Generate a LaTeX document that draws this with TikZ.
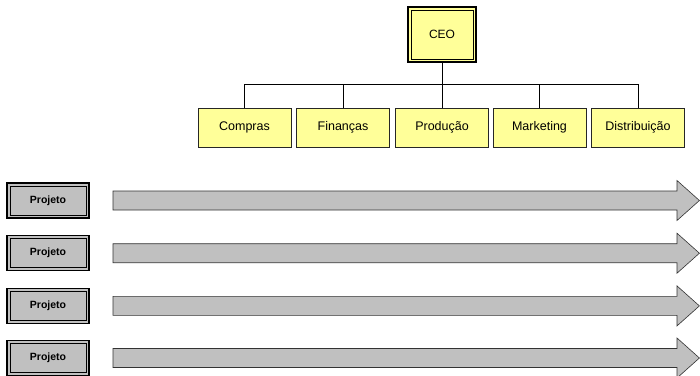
\documentclass[tikz,border=0pt]{standalone}
\usepackage{fontspec}
\setmainfont{Liberation Sans}
\usetikzlibrary{positioning}
\definecolor{boxyellow}{RGB}{255,255,153}
\definecolor{bargray}{RGB}{192,192,192}
\tikzset{inner line/.style = {path picture = {
           \draw [line width = 0.7pt]
             ([shift = {(3, 3)}]path picture bounding box.north west) rectangle
             ([shift = {(-3, -3)}]path picture bounding box.south east);}}}
\tikzset{ceobox/.style = {draw, fill = boxyellow, line width = 1.3pt, inner line,
                          minimum width = 68, minimum height = 55,
                          font = \fontsize{12}{14}\selectfont}}
\tikzset{deptbox/.style = {draw = black!85, fill = boxyellow, line width = 1pt,
                           minimum width = 93, minimum height = 39,
                           font = \fontsize{12.5}{14}\selectfont}}
\tikzset{projbox/.style = {draw, fill = bargray, line width = 1.3pt, inner line,
                           minimum width = 82, minimum height = 35,
                           font = \bfseries\fontsize{10.5}{12}\selectfont}}
\tikzset{bar/.style = {draw = black!80, fill = bargray, line width = 0.6pt}}

\begin{document}
\begin{tikzpicture}[x = 1pt, y = -1pt, inner sep = 0]
      \useasboundingbox (0, 0) rectangle (700, 375);

      \node [ceobox] (ceo) at (442, 34.5) {CEO};

      \node [deptbox] (compras)  at (244.5, 127.5) {Compras};
      \node [deptbox] (financas) at (343, 127.5)   {Finanças};
      \node [deptbox] (producao) at (442, 127.5)   {Produção};
      \node [deptbox] (marketing) at (539.5, 127.5) {Marketing};
      \node [deptbox] (distrib)  at (638, 127.5)   {Distribuição};

      \coordinate (bus) at (442, 84);
      \draw [line width = 0.8pt] (ceo) -- (bus);
      \foreach \dept in {compras, financas, producao, marketing, distrib}
        \draw [line width = 0.8pt] (\dept.north) |- (bus);

      \foreach \row/\y in {1/200.5, 2/253.2, 3/305.9, 4/358} {
        \node [projbox] (proj\row) at (48, \y) {Projeto};
        \draw [bar] (113, \y - 9.5) -- (677, \y - 9.5) -- (677, \y - 20)
                    -- (699.4, \y) -- (677, \y + 20) -- (677, \y + 9.5)
                    -- (113, \y + 9.5) -- cycle;
      }
    \end{tikzpicture}
\end{document}
